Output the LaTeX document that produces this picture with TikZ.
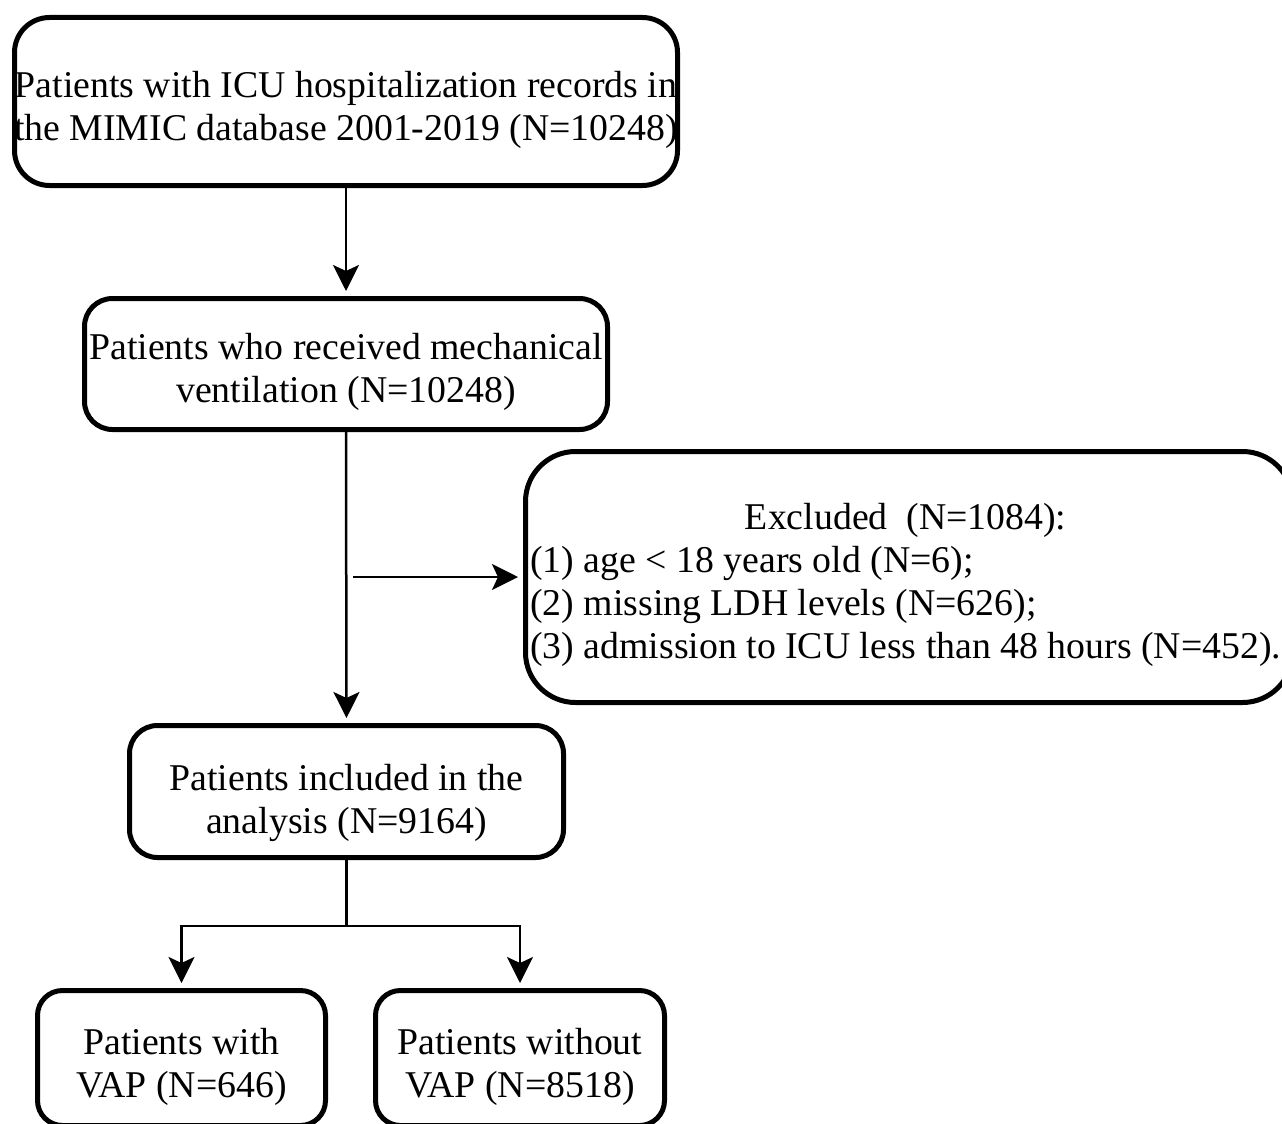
\documentclass[tikz,border=0pt]{standalone}
\usepackage{fontspec}
\setmainfont{Liberation Serif}
\usetikzlibrary{arrows.meta}
\tikzset{
  box/.style={draw, line width=5pt, inner sep=0pt},
  conn/.style={line width=2.5pt, -{Stealth[length=26pt,width=26pt,inset=6pt]}, shorten >=5pt},
  plain/.style={line width=2.5pt},
  txt/.style={inner sep=0pt, align=center, font=\fontsize{37.8}{43}\selectfont}
}
\begin{document}
\begin{tikzpicture}[x=1pt,y=-1pt]
\useasboundingbox (0,0) rectangle (1282,1124);
\fill[white] (0,0) rectangle (1282,1124);
\clip (0,0) rectangle (1282,1124);
\node[box, rounded corners=35pt, minimum width=663pt, minimum height=168pt] (a) at (346,101.5) {};
\node[txt] (at) at ([yshift=-8pt]a.center)
  {Patients with ICU hospitalization records in\\the MIMIC database 2001-2019 (N=10248)};
\node[box, rounded corners=28pt, minimum width=523pt, minimum height=131pt] (b) at (346,364) {};
\node[txt] (bt) at ([yshift=-8pt]b.center)
  {Patients who received mechanical\\ventilation (N=10248)};
\node[box, rounded corners=50pt, minimum width=767pt, minimum height=251pt] (ex) at (909,577) {};
\node[txt, anchor=west, align=left] (extxt) at (530,585)
  {\begin{tabular}{@{}l@{}}\multicolumn{1}{@{}c@{}}{Excluded\ \ (N=1084):}\\
  (1) age < 18 years old (N=6);\\
  (2) missing LDH levels (N=626);\\
  (3) admission to ICU less than 48 hours (N=452).\end{tabular}};
\node[box, rounded corners=28pt, minimum width=434pt, minimum height=132pt] (c) at (346.5,791.5) {};
\node[txt] (ct) at ([yshift=-11pt]c.center)
  {Patients included in the\\analysis (N=9164)};
\node[box, rounded corners=25pt, minimum width=288pt, minimum height=135pt] (d) at (181.5,1058) {};
\node[txt] (dt) at ([yshift=-9pt]d.center)
  {Patients with\\VAP (N=646)};
\node[box, rounded corners=25pt, minimum width=289pt, minimum height=135pt] (e) at (520,1058) {};
\node[txt] (et) at ([yshift=-9pt]e.center)
  {Patients without\\VAP (N=8518)};
\draw[conn] (a.south) -- (b.north);
\draw[conn] (b.south) -- (c.north);
\coordinate (h) at (353,577);
\draw[conn] (h) -- (ex.west);
\coordinate (j) at (346.5,926);
\draw[plain] (c.south) -- (j);
\draw[conn] (j) -| (d.north);
\draw[conn] (j) -| (e.north);
\end{tikzpicture}
\end{document}
